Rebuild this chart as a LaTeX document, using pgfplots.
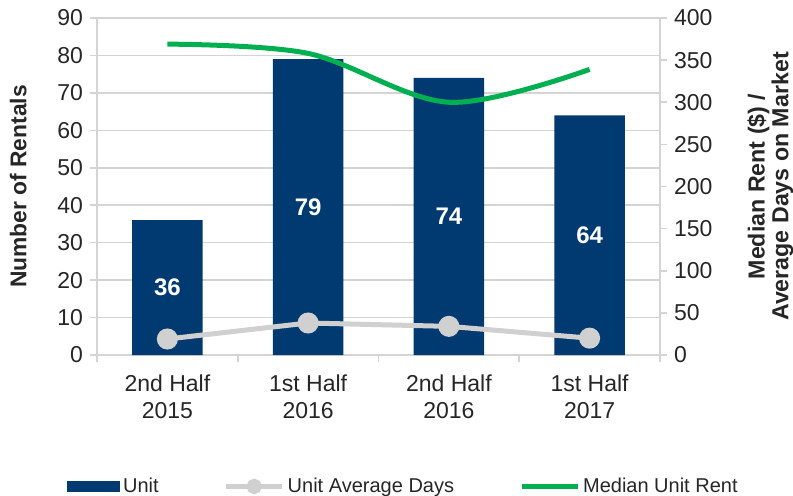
\documentclass[border=0pt]{standalone}
\usepackage{fontspec}
\setmainfont{Liberation Sans}
\usepackage{pgfplots}
\pgfplotsset{compat=1.18}
\definecolor{navy}{HTML}{003A70}
\definecolor{grn}{HTML}{00B050}
\definecolor{gry}{HTML}{D0D0D0}
\definecolor{gridc}{HTML}{D4D4D4}
\definecolor{txt}{HTML}{262626}
\begin{document}
\begin{tikzpicture}
\useasboundingbox (-48.5pt,-70pt) rectangle (348pt,177.5pt);
\pgfplotsset{base/.style={
  scale only axis, width=281.5pt, height=168.5pt,
  xmin=-0.5, xmax=3.5,
  /pgf/number format/assume math mode=true,
  tick label style={font=\fontsize{11.5}{13.5}\selectfont, text=txt},
  axis line style={gridc, line width=0.8pt},
  tick style={gridc, line width=0.8pt},
  major tick length=3.5pt, tick align=outside,
}}
\begin{axis}[base, name=ax, at={(0,0)}, anchor=south west,
  axis y line*=left, axis x line*=bottom,
  ymin=0, ymax=90, ytick={0,10,...,90},
  ymajorgrids, grid style={gridc, line width=0.8pt},
  xtick={-0.5,0.5,1.5,2.5,3.5}, xticklabels={},
  extra x ticks={0,1,2,3},
  extra x tick labels={2nd Half\\2015, 1st Half\\2016, 2nd Half\\2016, 1st Half\\2017},
  extra x tick style={major tick length=0pt, grid=none, xticklabel style={align=center, yshift=-6.5pt}},
  ylabel={Number of Rentals},
  every axis y label/.style={at={(axis description cs:-0.140,0.5)}, rotate=90, anchor=center,
    font=\fontsize{11.4}{13}\selectfont\bfseries, text=txt},
]
\addplot[ybar, bar width=0.5, fill=navy, draw=none] coordinates {(0,36) (1,79) (2,74) (3,64)};
\addplot[draw=none, mark=none, nodes near coords, point meta=explicit symbolic,
  every node near coord/.append style={anchor=center, text=white, font=\fontsize{12}{14}\selectfont\bfseries}]
  coordinates {(0,18)[36] (1,39.5)[79] (2,37)[74] (3,32)[64]};
\end{axis}
\begin{axis}[base, at={(0,0)}, anchor=south west,
  axis y line*=right, axis x line=none,
  ymin=0, ymax=400, ytick={0,50,...,400},
  ylabel={Median Rent (\$) /\\Average Days on Market},
  every axis y label/.style={at={(axis description cs:1.196,0.5)}, rotate=90, anchor=center, align=center,
    font=\fontsize{11.6}{10.8}\selectfont\bfseries, text=txt},
  legend columns=3,
  legend style={draw=none, fill=none, at={(axis description cs:-0.064,-0.39)}, anchor=west,
    font=\fontsize{10}{11.5}\selectfont, text=txt,
    nodes={inner xsep=1.5pt},
    /tikz/every even column/.append style={column sep=31pt}},
]
\addlegendimage{legend image code/.code={\fill[navy] (0pt,-2.4pt) rectangle (26pt,2.4pt);}}
\addlegendentry{Unit}
\addplot[gry, line width=2.5pt, mark=*, mark size=4pt, mark options={fill=gry, draw=gry},
  legend image code/.code={\draw[gry, line width=2.5pt] (0pt,0pt) -- (28pt,0pt); \fill[gry] (14pt,0pt) circle (2.6pt);}]
  coordinates {(0,19) (1,38) (2,34) (3,20)};
\addlegendentry{Unit Average Days}
\addplot[grn, line width=2.5pt, smooth, tension=0.55,
  legend image code/.code={\draw[grn, line width=2.5pt] (0pt,0pt) -- (28pt,0pt);}]
  coordinates {(0,369) (1,358) (2,300) (3,339)};
\addlegendentry{Median Unit Rent}
\end{axis}
\end{tikzpicture}
\end{document}
